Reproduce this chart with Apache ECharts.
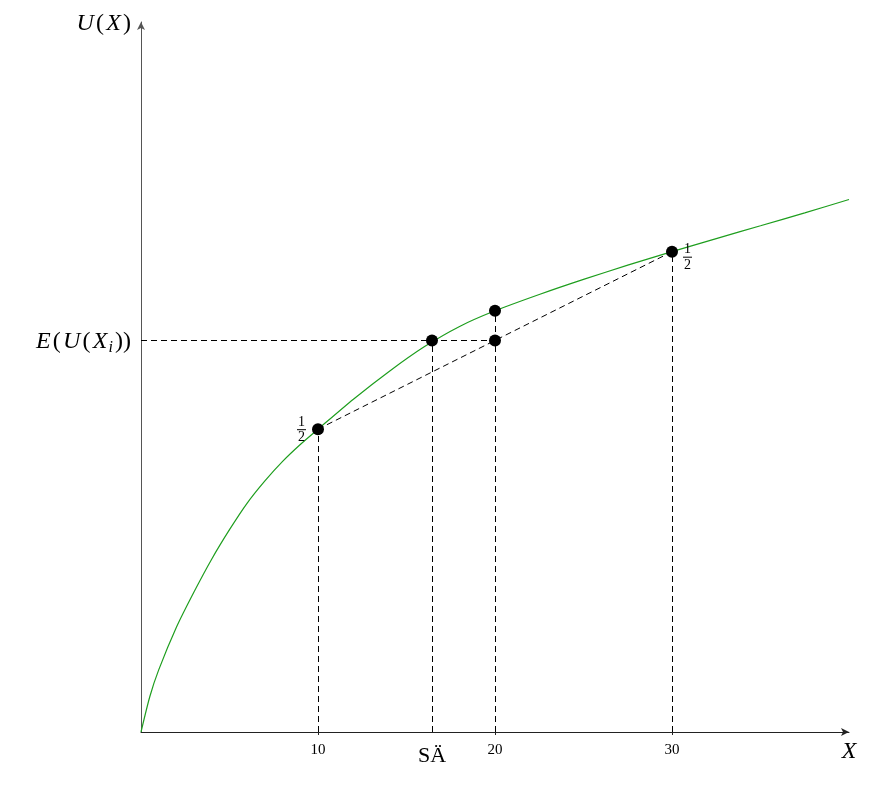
<!DOCTYPE html>
<html>
<head>
<meta charset="utf-8">
<script src="https://cdn.jsdelivr.net/npm/echarts@6/dist/echarts.min.js"></script>
<style>
  html, body { margin: 0; padding: 0; background: #fff; }
  #chart { width: 880px; height: 787px; }
</style>
</head>
<body>
<div id="chart"></div>
<script>
// ---- Data ----
const curveX = [0, 0.5, 1, 2, 3, 4, 5, 6, 7, 8, 9, 10, 12, 14, 16, 18, 20, 22.5, 25, 27.5, 30, 32.5, 35, 37.5, 40];
const curveU = [0, 2.0, 3.5, 5.9, 7.9, 9.75, 11.4, 12.9, 14.15, 15.25, 16.2, 17.06, 18.75, 20.3, 21.7, 22.85, 23.73, 24.65, 25.5, 26.3, 27.06, 27.8, 28.52, 29.25, 30.0];

const lotteryX = [10, 30];
const lotteryU = [17.06, 27.06];
const lotteryNum = ['1', '1'];   // probabilities 1/2
const lotteryDen = ['2', '2'];

const sureX = 20;
const sureU = 23.73;
const expectedU = 22.05;        // E(U(X_i))
const ceX = 16.44;              // SÄ
const tickValues = [10, 20, 30];
const tickLabels = ['10', '20', '30'];
const axisMax = 40;

// ---- Chart ----
const FONT = '"Liberation Serif", "DejaVu Serif", serif';
const chart = echarts.init(document.getElementById('chart'), null, { renderer: 'canvas' });

const curveData = curveX.map((x, i) => [x, curveU[i]]);

const dashStyle = { color: '#000', width: 1, type: [6, 4], opacity: 1 };

const fracRich = {
  n: { fontFamily: FONT, fontSize: 14, lineHeight: 12, align: 'center', color: '#000' },
  b: { width: 9, height: 1, lineHeight: 3, backgroundColor: '#000', align: 'center' },
  d: { fontFamily: FONT, fontSize: 14, lineHeight: 13, align: 'center', color: '#000' }
};

const mathRich = {
  i: { fontFamily: FONT, fontStyle: 'italic', fontSize: 24, color: '#000', lineHeight: 28, padding: [0, 1.2, 0, 1.2] },
  r: { fontFamily: FONT, fontSize: 24, color: '#000', lineHeight: 28, padding: [0, 1, 0, 1] },
  s: { fontFamily: FONT, fontStyle: 'italic', fontSize: 16, color: '#000', lineHeight: 16, verticalAlign: 'bottom', padding: [0, 1, 0, 0] }
};

const option = {
  animation: false,
  backgroundColor: '#ffffff',
  grid: { left: 141, right: 31, top: 22, bottom: 55, containLabel: false },
  xAxis: [
    {
      type: 'value', min: 0, max: axisMax, interval: 10,
      splitLine: { show: false },
      axisLine: { show: true, lineStyle: { color: '#222', width: 1 }, symbol: ['none', 'arrow'], symbolSize: [6, 8] },
      axisTick: { show: true, customValues: tickValues, length: 3, lineStyle: { color: '#222' } },
      axisLabel: {
        show: true, customValues: tickValues, margin: 11,
        formatter: v => tickLabels[tickValues.indexOf(v)] || '',
        fontFamily: FONT, fontSize: 15, color: '#000'
      },
      name: '{i|X}', nameLocation: 'end', nameGap: 0,
      nameTextStyle: { align: 'center', verticalAlign: 'top', padding: [6, 0, 0, 0], rich: mathRich }
    },
    {
      type: 'value', min: 0, max: axisMax, interval: 10, position: 'bottom',
      splitLine: { show: false },
      axisLine: { show: false },
      axisTick: { show: true, inside: true, customValues: tickValues, length: 3, lineStyle: { color: '#222' } },
      axisLabel: { show: false }
    }
  ],
  yAxis: {
    type: 'value', min: 0, max: axisMax,
    splitLine: { show: false },
    axisTick: { show: false },
    axisLabel: { show: false },
    axisLine: { show: true, lineStyle: { color: '#555', width: 1 }, symbol: ['none', 'arrow'], symbolSize: [6, 8] },
    name: '{i|U}{r|(}{i|X}{r|)}', nameLocation: 'end', nameGap: 0,
    nameTextStyle: {
      align: 'right', verticalAlign: 'middle', padding: [4, 9, 0, 0],
      rich: mathRich
    }
  },
  series: [
    {
      type: 'line', name: 'curve', data: curveData, smooth: 0.25,
      showSymbol: false, symbol: 'none',
      lineStyle: { color: '#1e9e1e', width: 1.2 },
      z: 3
    },
    {
      type: 'lines', coordinateSystem: 'cartesian2d', polyline: false,
      lineStyle: dashStyle, z: 2,
      data: [
        { coords: [[lotteryX[0], lotteryU[0]], [lotteryX[1], lotteryU[1]]] },
        { coords: [[lotteryX[0], 0], [lotteryX[0], lotteryU[0]]] },
        { coords: [[lotteryX[1], 0], [lotteryX[1], lotteryU[1]]] },
        { coords: [[sureX, 0], [sureX, sureU]] },
        { coords: [[ceX, 0], [ceX, expectedU]] },
        { coords: [[0, expectedU], [sureX, expectedU]] }
      ]
    },
    {
      type: 'scatter', symbol: 'circle', symbolSize: 12,
      itemStyle: { color: '#000', opacity: 1 }, z: 5,
      data: [
        {
          value: [lotteryX[0], lotteryU[0]],
          label: { show: true, position: 'left', distance: 6, offset: [0, 1],
            formatter: '{n|' + lotteryNum[0] + '}\n{b| }\n{d|' + lotteryDen[0] + '}', rich: fracRich }
        },
        {
          value: [lotteryX[1], lotteryU[1]],
          label: { show: true, position: 'right', distance: 5, offset: [0, 6],
            formatter: '{n|' + lotteryNum[1] + '}\n{b| }\n{d|' + lotteryDen[1] + '}', rich: fracRich }
        },
        { value: [sureX, sureU] },
        { value: [ceX, expectedU] },
        { value: [sureX, expectedU] }
      ]
    },
    {
      type: 'scatter', symbolSize: 0, z: 6, silent: true,
      itemStyle: { opacity: 1 },
      data: [
        {
          value: [0, expectedU],
          label: {
            show: true, position: 'left', distance: 9, offset: [0, 1],
            formatter: '{i|E}{r|(}{i|U}{r|(}{i|X}{s|i}{r|))}',
            rich: mathRich
          }
        },
        {
          value: [ceX, 0],
          label: {
            show: true, position: 'bottom', distance: 13,
            formatter: 'SÄ', fontFamily: FONT, fontSize: 22, color: '#000'
          }
        }
      ]
    }
  ]
};

chart.setOption(option);
</script>
</body>
</html>
